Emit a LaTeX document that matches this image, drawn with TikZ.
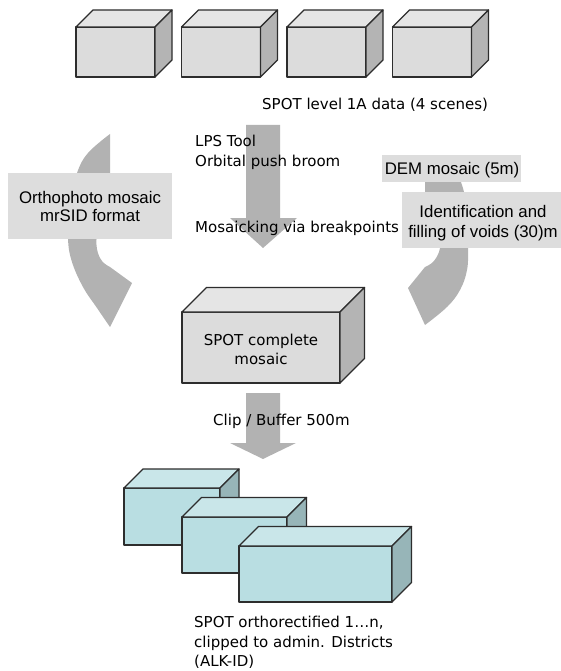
\documentclass[tikz,border=0pt]{standalone}
\usepackage{fontspec}
\newfontfamily\verdanaish{DejaVu Sans}
\newfontfamily\arialish{Liberation Sans}
\definecolor{edgegray}{RGB}{45,45,45}
\definecolor{arrowgray}{RGB}{178,178,178}
\definecolor{boxgray}{RGB}{221,221,221}
\definecolor{sceneFront}{RGB}{220,220,220}
\definecolor{sceneTop}{RGB}{229,229,229}
\definecolor{sceneSide}{RGB}{180,180,180}
\definecolor{tileFront}{RGB}{185,222,226}
\definecolor{tileTop}{RGB}{201,230,233}
\definecolor{tileSide}{RGB}{151,181,184}

% solid box: name, x, y (top-left of front face), width, height, depth, front, top, side colours
\newcommand\solidbox[9]{%
  \node[edge, fill=#7, anchor=north west, minimum width=#4pt, minimum height=#5pt,
        inner sep=0pt, outer sep=0pt] (#1) at (#2,#3) {};
  \filldraw[edge, fill=#8] (#1.north west) -- ++(#6,-#6) -- ++(#4,0) -- (#1.north east) -- cycle;
  \filldraw[edge, fill=#9] (#1.north east) -- ++(#6,-#6) -- ++(0,#5) -- (#1.south east) -- cycle;
}

\begin{document}
\begin{tikzpicture}[x=1pt, y=-1pt,
  edge/.style={draw=edgegray, line width=1.3pt, line join=round},
  caption/.style={inner sep=0pt, anchor=base west, text=black,
                  font=\verdanaish\fontsize{15}{19}\selectfont},
  midcaption/.style={caption, anchor=base},
  tag/.style={inner sep=0pt, anchor=base, text=black,
              font=\arialish\fontsize{16.8}{19}\selectfont},
  labelbox/.style={fill=boxgray, draw=none},
  bigarrow/.style={fill=arrowgray, draw=none}]

\useasboundingbox (0,0) rectangle (561,671);

% the four input scenes
\solidbox{sceneA}{76}{27}{79}{50}{17}{sceneFront}{sceneTop}{sceneSide}
\solidbox{sceneB}{181.5}{27}{79}{50}{17}{sceneFront}{sceneTop}{sceneSide}
\solidbox{sceneC}{287}{27}{79}{50}{17}{sceneFront}{sceneTop}{sceneSide}
\solidbox{sceneD}{392.5}{27}{79}{50}{17}{sceneFront}{sceneTop}{sceneSide}
\node[caption] (scenesCap) at (262,110) {SPOT level 1A data (4 scenes)};

% straight flow arrow into the mosaic
\fill[bigarrow] (246,125) -- (280,125) -- (280,218) -- (297,218) -- (263,248)
  -- (230,218) -- (246,218) -- cycle;
\node[caption] (lpsA) at (195,147) {LPS Tool};
\node[caption] (lpsB) at (195,167) {Orbital push broom};
\node[caption] (mosaicking) at (195,232) {Mosaicking via breakpoints};

% curved arrow on the left
\fill[bigarrow]
  plot[smooth, tension=0.65] coordinates {(110,134) (88,153) (77,173) (69,205) (68,239)
       (72,262) (83,287) (97,308) (110,327)}
  -- (132,283) -- (110,267)
  -- plot[smooth, tension=0.65] coordinates {(110,267) (102,261) (97,249) (97,232) (101,200) (110,175)}
  -- cycle;
\fill[labelbox] (8,173) rectangle (172,239);
\node[tag] (orthoA) at (90,203) {Orthophoto mosaic};
\node[tag] (orthoB) at (90,221) {mrSID format};

% curved arrow on the right
\fill[bigarrow]
  plot[smooth, tension=0.65] coordinates {(425,158) (450,166) (462,185) (467,215) (468,248)
       (467,270) (460,290) (447,307) (425,325)}
  -- (408,288) -- (425,267)
  -- plot[smooth, tension=0.65] coordinates {(425,267) (433,262) (439,252) (440,242) (437,222) (425,195)}
  -- cycle;
\fill[labelbox] (382,155) rectangle (521,182);
\node[tag] (dem) at (452,175) {DEM mosaic (5m)};
\fill[labelbox] (402,192) rectangle (561,248);
\node[tag] (voidsA) at (483,217) {Identification and};
\node[tag] (voidsB) at (483,237) {filling of voids (30)m};

% complete mosaic
\solidbox{mosaic}{182}{312}{158}{71}{24.5}{sceneFront}{sceneTop}{sceneSide}
\node[midcaption] (mosaicA) at (261,345) {SPOT complete};
\node[midcaption] (mosaicB) at (261,364) {mosaic};

% clipping arrow
\fill[bigarrow] (246,393) -- (280,393) -- (280,443) -- (296,443) -- (263,459)
  -- (230,443) -- (246,443) -- cycle;
\node[caption] (clip) at (213,425) {Clip / Buffer 500m};

% clipped district tiles
\solidbox{tileA}{124}{488}{96}{57}{19}{tileFront}{tileTop}{tileSide}
\solidbox{tileB}{182}{517}{105}{56}{19.5}{tileFront}{tileTop}{tileSide}
\solidbox{tileC}{239}{546}{153}{56}{19.5}{tileFront}{tileTop}{tileSide}
\node[caption] (tilesA) at (194,627) {SPOT orthorectified 1…n,};
\node[caption] (tilesB) at (194,647) {clipped to admin. Districts};
\node[caption] (tilesC) at (194,666) {(ALK-ID)};

\end{tikzpicture}
\end{document}
